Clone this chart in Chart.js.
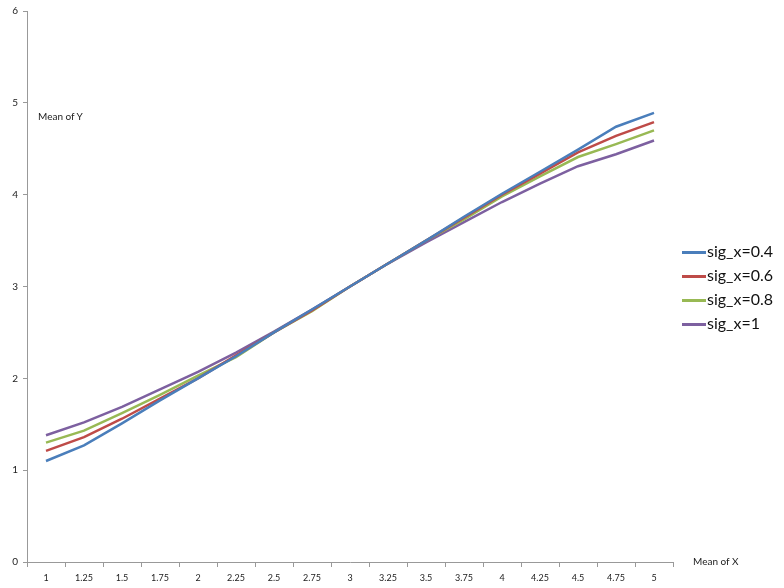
<!DOCTYPE html>
<html>
<head>
<meta charset="utf-8">
<script src="https://cdn.jsdelivr.net/npm/chart.js@4/dist/chart.umd.min.js"></script>
<style>
  html, body { margin: 0; padding: 0; background: #fff; }
  #wrap { position: relative; width: 784px; height: 588px; }
  #legend { position: absolute; left: 682px; top: 240px; font-family: Lato, sans-serif; font-size: 16px; color: #111; }
  #legend div { height: 24px; line-height: 22px; white-space: nowrap; }
  #legend span.sw { display: inline-block; width: 24px; height: 3px; vertical-align: middle; margin-right: 1px; }
  .ttl { position: absolute; font-family: Lato, sans-serif; font-size: 10px; color: #222; }
</style>
</head>
<body>
<div id="wrap">
  <canvas id="c" width="784" height="588"></canvas>
  <div class="ttl" style="left:38px; top:110px;">Mean of Y</div>
  <div class="ttl" style="left:693px; top:555px;">Mean of X</div>
  <div id="legend"></div>
</div>
<script>
const categories = ['1','1.25','1.5','1.75','2','2.25','2.5','2.75','3','3.25','3.5','3.75','4','4.25','4.5','4.75','5'];
const seriesNames = ['sig_x=0.4','sig_x=0.6','sig_x=0.8','sig_x=1'];
const sig04 = [1.10,1.27,1.51,1.76,2.00,2.24,2.50,2.75,3.00,3.25,3.50,3.76,4.01,4.25,4.49,4.74,4.89];
const sig06 = [1.21,1.36,1.56,1.78,2.00,2.25,2.50,2.74,3.00,3.25,3.50,3.75,4.00,4.23,4.46,4.64,4.79];
const sig08 = [1.30,1.43,1.62,1.82,2.03,2.23,2.50,2.73,3.00,3.25,3.50,3.73,3.98,4.20,4.41,4.55,4.70];
const sig1  = [1.38,1.52,1.69,1.88,2.07,2.28,2.51,2.75,3.00,3.25,3.48,3.70,3.92,4.12,4.31,4.44,4.59];
const colors = ['#4A7EBB','#BE4B48','#98B954','#7D60A0'];

const allSeries = [sig04, sig06, sig08, sig1];

const legend = document.getElementById('legend');
seriesNames.forEach((n, i) => {
    const row = document.createElement('div');
    row.innerHTML = `<span class="sw" style="background:${colors[i]}"></span>${n}`;
    legend.appendChild(row);
});

new Chart(document.getElementById('c').getContext('2d'), {
    type: 'line',
    data: {
        labels: categories,
        datasets: allSeries.map((d, i) => ({
            label: seriesNames[i],
            data: d,
            borderColor: colors[i],
            borderWidth: 2.5,
            pointRadius: 0,
            tension: 0,
            fill: false
        }))
    },
    options: {
        responsive: false,
        animation: false,
        layout: { padding: { left: 0, right: 111, top: 7, bottom: 0 } },
        plugins: { legend: { display: false }, tooltip: { enabled: false } },
        scales: {
            x: {
                offset: true,
                grid: { display: true, drawOnChartArea: false, drawTicks: true, tickLength: 5, offset: true, color: '#999' },
                border: { color: '#999', width: 1 },
                ticks: { color: '#222', font: { family: 'Lato', size: 9 }, padding: 6, maxRotation: 0, autoSkip: false },
                afterFit: s => { s.height = 26; }
            },
            y: {
                min: 0, max: 6,
                grid: { display: true, drawOnChartArea: false, drawTicks: true, tickLength: 4, color: '#999' },
                border: { color: '#999', width: 1 },
                ticks: { stepSize: 1, color: '#222', font: { family: 'Lato', size: 10 }, padding: 5 },
                afterFit: s => { s.width = 27; }
            }
        }
    }
});
</script>
</body>
</html>
